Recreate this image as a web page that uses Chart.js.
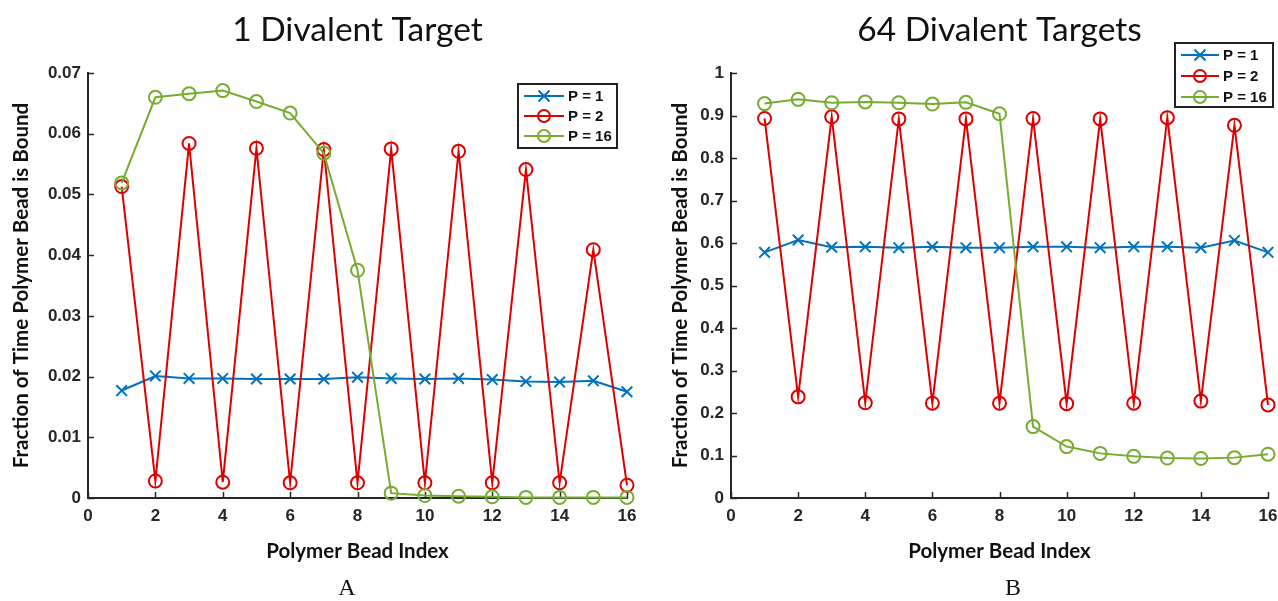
<!DOCTYPE html>
<html>
<head>
<meta charset="utf-8">
<script src="https://cdn.jsdelivr.net/npm/chart.js@4/dist/chart.umd.min.js"></script>
<style>
  body { margin: 0; background: #fff; width: 1278px; height: 601px; overflow: hidden; position: relative; }
  .panel { position: absolute; top: 0; height: 601px; }
  .tag { position: absolute; top: 574px; font-family: "Liberation Serif", "DejaVu Serif", serif; font-size: 24px; color: #111; transform: translateX(-50%); }
</style>
</head>
<body>
<div class="panel" style="left:0;width:640px"><canvas id="chartA"></canvas></div>
<div class="panel" style="left:640px;width:638px"><canvas id="chartB"></canvas></div>
<div class="tag" style="left:347px">A</div>
<div class="tag" style="left:1013px">B</div>
<script>
const beadIndex = [1, 2, 3, 4, 5, 6, 7, 8, 9, 10, 11, 12, 13, 14, 15, 16];
const seriesNames = ["P = 1", "P = 2", "P = 16"];

// 1 divalent target
const oneTargetP1 = [0.0177, 0.0201, 0.0197, 0.0197, 0.0196, 0.0196, 0.0196, 0.0199, 0.0197, 0.0196, 0.0197, 0.0195, 0.0192, 0.0191, 0.0193, 0.0175];
const oneTargetP2 = [0.0513, 0.0028, 0.0584, 0.0026, 0.0576, 0.0025, 0.0574, 0.0025, 0.0575, 0.0025, 0.0571, 0.0025, 0.0541, 0.0025, 0.0409, 0.0021];
const oneTargetP16 = [0.0519, 0.0660, 0.0666, 0.0671, 0.0653, 0.0634, 0.0568, 0.0375, 0.0008, 0.0004, 0.0003, 0.0002, 0.0001, 0.0001, 0.0001, 0.0001];

// 64 divalent targets
const manyTargetsP1 = [0.578, 0.607, 0.590, 0.591, 0.589, 0.591, 0.589, 0.589, 0.591, 0.591, 0.589, 0.591, 0.591, 0.589, 0.606, 0.578];
const manyTargetsP2 = [0.893, 0.238, 0.897, 0.224, 0.892, 0.223, 0.892, 0.223, 0.893, 0.222, 0.892, 0.223, 0.895, 0.228, 0.877, 0.219];
const manyTargetsP16 = [0.928, 0.938, 0.930, 0.932, 0.930, 0.927, 0.931, 0.904, 0.168, 0.121, 0.105, 0.098, 0.094, 0.093, 0.095, 0.103];

const xTicks = [0, 2, 4, 6, 8, 10, 12, 14, 16];
const yTicksA = [0, 0.01, 0.02, 0.03, 0.04, 0.05, 0.06, 0.07];
const yTicksB = [0, 0.1, 0.2, 0.3, 0.4, 0.5, 0.6, 0.7, 0.8, 0.9, 1];

const colors = { blue: "#0072BD", red: "#DD0000", green: "#77AC30", axis: "#262626" };
const seriesColors = [colors.blue, colors.red, colors.green];
const seriesMarkers = ["crossRot", "circle", "circle"];
const tickFont = { family: "'Liberation Sans'", size: 17, weight: "bold" };

function makeDatasets(values) {
  return values.map((vals, i) => ({
    label: seriesNames[i],
    data: beadIndex.map((b, j) => ({ x: b, y: vals[j] })),
    borderColor: seriesColors[i],
    backgroundColor: "rgba(0,0,0,0)",
    borderWidth: 2,
    pointStyle: seriesMarkers[i],
    pointRadius: seriesMarkers[i] === "crossRot" ? 7.5 : 6.5,
    pointBorderWidth: 2,
    pointBackgroundColor: "rgba(0,0,0,0)",
    tension: 0,
    clip: false,
    order: 3 - i,
  }));
}

// inward tick marks, matlab style
const innerTicks = {
  id: "innerTicks",
  beforeDatasetsDraw(chart) {
    const ctx = chart.ctx;
    const { x, y } = chart.scales;
    const area = chart.chartArea;
    ctx.save();
    ctx.strokeStyle = colors.axis;
    ctx.lineWidth = 1.5;
    ctx.beginPath();
    x.ticks.forEach((t) => {
      const px = Math.round(x.getPixelForValue(t.value)) + 0.5;
      ctx.moveTo(px, area.bottom);
      ctx.lineTo(px, area.bottom - 6);
    });
    y.ticks.forEach((t) => {
      const py = Math.round(y.getPixelForValue(t.value)) + 0.5;
      ctx.moveTo(area.left, py);
      ctx.lineTo(area.left + 6, py);
    });
    ctx.stroke();
    ctx.restore();
  },
};

// MATLAB style legend box placed by hand
const boxLegend = {
  id: "boxLegend",
  afterDraw(chart, args, opts) {
    const ctx = chart.ctx;
    const { x, y, w, h, rowGap, lineLen } = opts;
    ctx.save();
    ctx.fillStyle = "#fff";
    ctx.fillRect(x, y, w, h);
    ctx.strokeStyle = "#222";
    ctx.lineWidth = 2;
    ctx.strokeRect(x, y, w, h);
    ctx.font = "bold 15px 'Liberation Sans'";
    ctx.textBaseline = "middle";
    chart.data.datasets.forEach((ds, i) => {
      const cy = y + 12 + i * rowGap;
      const x0 = x + 6, x1 = x0 + lineLen, cx = (x0 + x1) / 2;
      ctx.strokeStyle = ds.borderColor;
      ctx.lineWidth = 2;
      ctx.beginPath();
      ctx.moveTo(x0, cy);
      ctx.lineTo(x1, cy);
      ctx.stroke();
      ctx.beginPath();
      if (ds.pointStyle === "circle") {
        ctx.arc(cx, cy, 6, 0, Math.PI * 2);
      } else {
        const r = 5.5;
        ctx.moveTo(cx - r, cy - r); ctx.lineTo(cx + r, cy + r);
        ctx.moveTo(cx + r, cy - r); ctx.lineTo(cx - r, cy + r);
      }
      ctx.stroke();
      ctx.fillStyle = "#111";
      ctx.fillText(ds.label, x1 + 4, cy + 1);
    });
    ctx.restore();
  },
};

function createPlot(id, title, values, yTicks, yMax, opts) {
  return new Chart(document.getElementById(id), {
    type: "line",
    data: { datasets: makeDatasets(values) },
    plugins: [innerTicks, boxLegend],
    options: {
      responsive: false,
      animation: false,
      layout: { padding: { left: 0, right: opts.padRight, top: 0, bottom: 0 } },
      plugins: {
        legend: { display: false },
        tooltip: { enabled: false },
        title: {
          display: true,
          text: title,
          fullSize: false,
          color: "#111",
          font: { family: "Lato", size: 33.5, weight: "normal" },
          padding: { top: 10, bottom: 22.8 },
        },
        boxLegend: opts.legend,
      },
      scales: {
        x: {
          type: "linear",
          min: 0,
          max: 16,
          afterBuildTicks: (s) => { s.ticks = xTicks.map((v) => ({ value: v })); },
          afterFit: (s) => { s.height = 103; s.paddingLeft = 0; s.paddingRight = 0; },
          border: { display: true, color: colors.axis, width: 2 },
          grid: { display: false, drawTicks: false },
          ticks: { color: colors.axis, padding: 8, maxRotation: 0, font: tickFont, callback: (v) => String(v) },
          title: {
            display: true,
            text: "Polymer Bead Index",
            color: "#111",
            font: { family: "Lato", size: 20.5, weight: "bold" },
            padding: { top: 0, bottom: 37 },
          },
        },
        y: {
          type: "linear",
          min: 0,
          max: yMax,
          afterBuildTicks: (s) => { s.ticks = yTicks.map((v) => ({ value: v })); },
          afterFit: (s) => { s.width = opts.yWidth; s.paddingTop = 0; s.paddingBottom = 0; },
          border: { display: true, color: colors.axis, width: 2 },
          grid: { display: false, drawTicks: false },
          ticks: { color: colors.axis, padding: 7, font: tickFont, callback: (v) => String(v) },
          title: {
            display: true,
            text: "Fraction of Time Polymer Bead is Bound",
            color: "#111",
            font: { family: "Lato", size: 20.5, weight: "bold" },
            padding: { top: opts.yTitlePad, bottom: 0 },
          },
        },
      },
    },
  });
}

const canvasA = document.getElementById("chartA");
canvasA.width = 640; canvasA.height = 601;
const canvasB = document.getElementById("chartB");
canvasB.width = 638; canvasB.height = 601;

createPlot("chartA", "1 Divalent Target", [oneTargetP1, oneTargetP2, oneTargetP16], yTicksA, 0.07, {
  padRight: 13, yWidth: 88, yTitlePad: 9,
  legend: { x: 518, y: 84, w: 99, h: 64, rowGap: 20, lineLen: 40 },
});
createPlot("chartB", "64 Divalent Targets", [manyTargetsP1, manyTargetsP2, manyTargetsP16], yTicksB, 1, {
  padRight: 10, yWidth: 91, yTitlePad: 28,
  legend: { x: 535, y: 43, w: 98, h: 64, rowGap: 21, lineLen: 38 },
});
</script>
</body>
</html>
